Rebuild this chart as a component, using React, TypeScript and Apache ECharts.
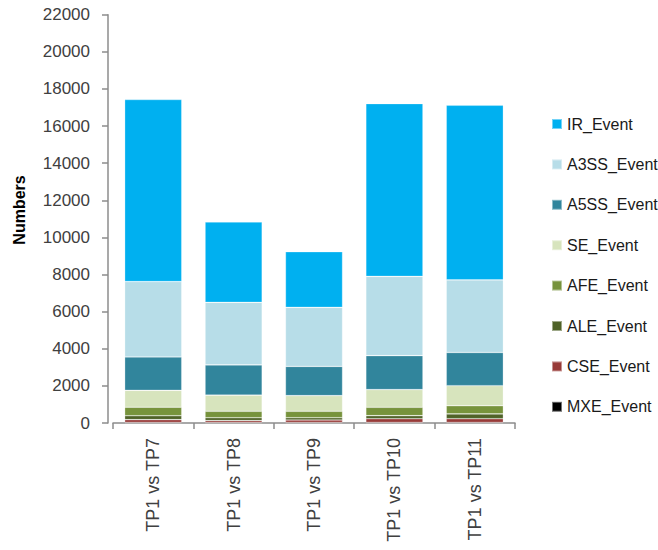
import React, { useEffect, useRef } from "react";
import * as echarts from "echarts";

// Comparison categories along the x axis
const categories = ["TP1 vs TP7", "TP1 vs TP8", "TP1 vs TP9", "TP1 vs TP10", "TP1 vs TP11"];

// Event counts per comparison, one array per event type (stacked bottom to top)
const mxeEvent = [30, 30, 30, 30, 30];
const cseEvent = [150, 100, 130, 200, 200];
const aleEvent = [210, 155, 125, 165, 260];
const afeEvent = [460, 345, 345, 450, 440];
const seEvent = [910, 870, 845, 955, 1080];
const a5ssEvent = [1800, 1630, 1575, 1830, 1790];
const a3ssEvent = [4060, 3370, 3180, 4270, 3910];
const irEvent = [9810, 4330, 3000, 9310, 9410];

const yTicks = { min: 0, max: 22000, interval: 2000 };

const seriesDefs = [
  { name: "MXE_Event", data: mxeEvent, color: "#000000" },
  { name: "CSE_Event", data: cseEvent, color: "#983a38" },
  { name: "ALE_Event", data: aleEvent, color: "#4f6228" },
  { name: "AFE_Event", data: afeEvent, color: "#77933c" },
  { name: "SE_Event", data: seEvent, color: "#d7e4bd" },
  { name: "A5SS_Event", data: a5ssEvent, color: "#31859c" },
  { name: "A3SS_Event", data: a3ssEvent, color: "#b7dde8" },
  { name: "IR_Event", data: irEvent, color: "#00b0f0" },
];

const FONT = "'Liberation Sans', Arial, sans-serif";

export default function App() {
  const ref = useRef<HTMLDivElement>(null);

  useEffect(() => {
    if (!ref.current) return;
    const chart = echarts.init(ref.current, undefined, { renderer: "svg" });
    chart.setOption({
      animation: false,
      backgroundColor: "#ffffff",
      textStyle: { fontFamily: FONT },
      grid: { left: 113, top: 14.7, width: 402, height: 408.3, containLabel: false },
      legend: {
        orient: "vertical",
        left: 546,
        top: 111,
        itemWidth: 10,
        itemHeight: 10,
        itemGap: 24.4,
        icon: "rect",
        data: [...seriesDefs].reverse().map((s) => s.name),
        textStyle: { fontSize: 16, color: "#1a1a1a", fontFamily: FONT, lineHeight: 16, padding: [0, 0, 0, 0] },
      },
      xAxis: {
        type: "category",
        data: categories,
        axisLine: { lineStyle: { color: "#8c8c8c", width: 1.5 } },
        axisTick: { show: true, alignWithLabel: false, length: 6, lineStyle: { color: "#8c8c8c", width: 1.5 } },
        axisLabel: { rotate: 90, margin: 15, fontSize: 18, color: "#404040", fontFamily: FONT },
      },
      yAxis: {
        type: "value",
        min: yTicks.min,
        max: yTicks.max,
        interval: yTicks.interval,
        offset: 5,
        splitLine: { show: false },
        axisLine: { show: true, lineStyle: { color: "#8c8c8c", width: 1.5 } },
        axisTick: { show: true, length: 6, lineStyle: { color: "#8c8c8c", width: 1.5 } },
        axisLabel: {
          margin: 18,
          fontSize: 17,
          color: "#404040",
          fontFamily: FONT,
          formatter: (v: number) => String(v),
        },
      },
      graphic: [
        {
          type: "text",
          x: 19,
          y: 210,
          rotation: Math.PI / 2,
          style: {
            text: "Numbers",
            fontSize: 16,
            fontWeight: "bold",
            fontFamily: FONT,
            fill: "#000000",
            align: "center",
            verticalAlign: "middle",
          },
        },
      ],
      series: seriesDefs.map((s) => ({
        name: s.name,
        type: "bar",
        stack: "events",
        data: s.data,
        barWidth: "71%",
        itemStyle: { color: s.color, borderColor: "rgba(255,255,255,0.45)", borderWidth: 0.6 },
      })),
    });
    return () => chart.dispose();
  }, []);

  return (
    <div
      ref={ref}
      style={{ position: "fixed", left: 0, top: 0, width: 658, height: 550 }}
    />
  );
}
